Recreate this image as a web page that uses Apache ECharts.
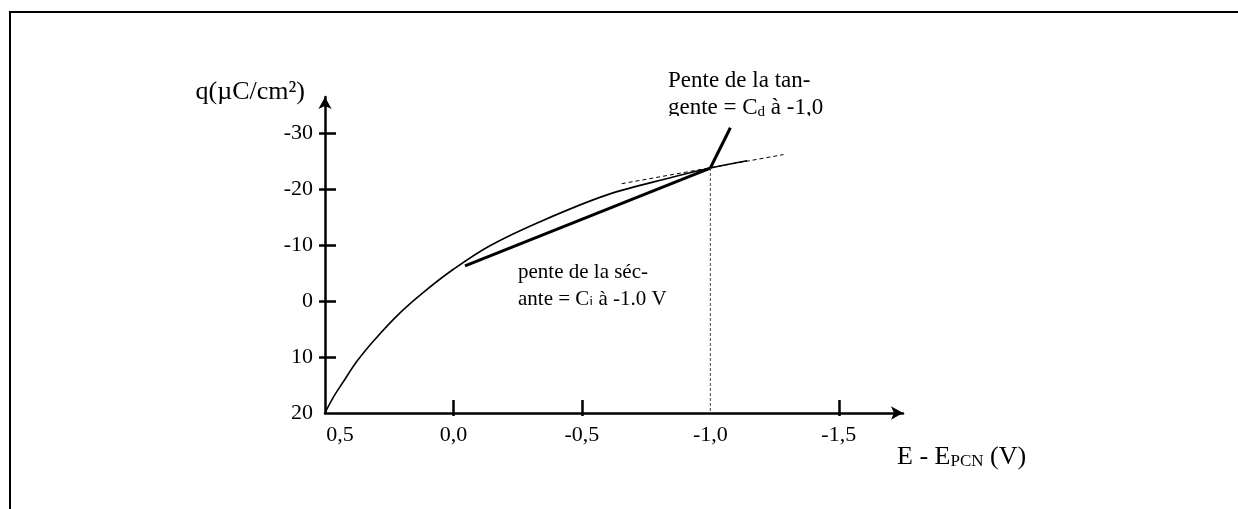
<!DOCTYPE html>
<html>
<head>
<meta charset="utf-8">
<script src="https://cdn.jsdelivr.net/npm/echarts@6/dist/echarts.min.js"></script>
<style>
  html, body { margin: 0; padding: 0; background: #fff; }
  #chart { width: 1238px; height: 509px; }
</style>
</head>
<body>
<div id="chart"></div>
<script>
// Charge density q (µC/cm²) against electrode potential E - E_PCN (V)
const curveE = [0.5, 0.469, 0.43, 0.375, 0.305, 0.208, 0.111, 0.0, -0.142, -0.337, -0.598, -0.855, -1.0, -1.143];
const curveQ = [20, 17.3, 14.5, 10.7, 6.8, 2.1, -1.8, -5.7, -9.9, -14.2, -19.0, -22.2, -23.8, -25.1];

// secant from the curve to the point at -1,0 V
const secantE = [-0.045, -1.0];
const secantQ = [-6.3, -23.8];

// tangent to the curve at -1,0 V
const tangentE = [-0.655, -1.285];
const tangentQ = [-21.0, -26.2];

// vertical guide dropped from the point at -1,0 V
const guideE = [-1.0, -1.0];
const guideQ = [-23.8, 20];

// pointer from the tangent point up to its label
const pointerE = [-1.0, -1.078];
const pointerQ = [-23.8, -31.0];

const xLabelValues = [0.5, 0.0, -0.5, -1.0, -1.5];
const xTickValues = [0.0, -0.5, -1.5];
const yLabelValues = [-30, -20, -10, 0, 10, 20];
const yTickValues = [-30, -20, -10, 0, 10];

const FONT = "'Liberation Serif', 'Times New Roman', serif";
const pairs = (xs, ys) => xs.map((x, i) => [x, ys[i]]);

const chart = echarts.init(document.getElementById('chart'));

const gridBox = { left: 325, top: 97, right: 335, bottom: 96 };
const xRange = { min: -1.75, max: 0.5 };
const yRange = { min: -36.5, max: 20 };

function lineSeries(xs, ys, width, type, color) {
  return {
    type: 'line',
    data: pairs(xs, ys),
    symbol: 'none',
    silent: true,
    animation: false,
    lineStyle: { color: color || '#000', width: width, type: type || 'solid' },
    z: 3
  };
}

const curve = lineSeries(curveE, curveQ, 1.6);
curve.smooth = 0.35;

chart.setOption({
  backgroundColor: '#fff',
  animation: false,
  grid: [
    Object.assign({}, gridBox),
    Object.assign({}, gridBox)
  ],
  xAxis: [
    {
      type: 'value', gridIndex: 0, inverse: true,
      min: xRange.min, max: xRange.max,
      splitLine: { show: false },
      axisLine: {
        onZero: false,
        lineStyle: { color: '#000', width: 2.5 },
        symbol: ['none', 'arrow'], symbolSize: [10, 12]
      },
      axisTick: {
        inside: true, length: 13, customValues: xTickValues,
        lineStyle: { color: '#000', width: 2.5 }
      },
      axisLabel: {
        customValues: xLabelValues,
        margin: 11,
        color: '#000', fontFamily: FONT, fontSize: 22,
        formatter: v => {
          const s = v.toFixed(1).replace('.', ',');
          return v === xRange.max ? '{first|' + s + '}' : s;
        },
        rich: { first: { fontFamily: FONT, fontSize: 22, color: '#000', padding: [0, 0, 0, 30] } }
      }
    },
    {
      type: 'value', gridIndex: 1, inverse: true,
      min: xRange.min, max: xRange.max,
      splitLine: { show: false },
      axisLine: { show: false, onZero: false },
      axisTick: {
        inside: false, length: 3, customValues: xTickValues,
        lineStyle: { color: '#000', width: 2.5 }
      },
      axisLabel: { show: false }
    }
  ],
  yAxis: [
    {
      type: 'value', gridIndex: 0, inverse: true,
      min: yRange.min, max: yRange.max,
      splitLine: { show: false },
      axisLine: {
        onZero: false,
        lineStyle: { color: '#000', width: 2.5 },
        symbol: ['none', 'arrow'], symbolSize: [10, 12]
      },
      axisTick: {
        inside: true, length: 11, customValues: yTickValues,
        lineStyle: { color: '#000', width: 2.5 }
      },
      axisLabel: {
        customValues: yLabelValues,
        margin: 12,
        padding: [9, 0, 0, 0],
        color: '#000', fontFamily: FONT, fontSize: 22,
        formatter: v => String(v)
      }
    },
    {
      type: 'value', gridIndex: 1, inverse: true,
      min: yRange.min, max: yRange.max,
      splitLine: { show: false },
      axisLine: { show: false, onZero: false },
      axisTick: {
        inside: false, length: 6, customValues: yTickValues,
        lineStyle: { color: '#000', width: 2.5 }
      },
      axisLabel: { show: false }
    }
  ],
  series: [
    curve,
    lineSeries(secantE, secantQ, 3),
    lineSeries(tangentE, tangentQ, 1, [4, 3]),
    lineSeries(guideE, guideQ, 1, [3, 2], '#444'),
    lineSeries(pointerE, pointerQ, 3)
  ],
  graphic: [
    // page frame along the top and left edges
    {
      type: 'polyline', silent: true,
      shape: { points: [[10, 509], [10, 12], [1238, 12]] },
      style: { stroke: '#000', lineWidth: 2, fill: null }
    },
    // axis titles
    {
      type: 'text', silent: true, x: 305, y: 92,
      style: { text: 'q(µC/cm²)', font: '26px ' + FONT, fill: '#000', align: 'right', verticalAlign: 'middle' }
    },
    {
      type: 'text', silent: true, x: 897, y: 457,
      style: {
        text: 'E - E{sub|PCN} (V)',
        font: '26px ' + FONT, fill: '#000', verticalAlign: 'middle',
        rich: { sub: { fontFamily: FONT, fontSize: 17, fill: '#000', verticalAlign: 'bottom', lineHeight: 16 } }
      }
    },
    // tangent label
    {
      type: 'text', silent: true, x: 668, y: 81,
      style: { text: 'Pente de la tan-', font: '23px ' + FONT, fill: '#000', verticalAlign: 'middle' }
    },
    {
      type: 'text', silent: true, x: 668, y: 108,
      style: {
        text: 'gente = C{sub|d} à -1,0',
        font: '23px ' + FONT, fill: '#000', verticalAlign: 'middle',
        rich: { sub: { fontFamily: FONT, fontSize: 15, fill: '#000', verticalAlign: 'bottom', lineHeight: 12 } }
      }
    },
    { type: 'rect', silent: true, z: 100, shape: { x: 660, y: 116, width: 200, height: 9 }, style: { fill: '#fff' } },
    // secant label
    {
      type: 'text', silent: true, x: 518, y: 272,
      style: { text: 'pente de la séc-', font: '21px ' + FONT, fill: '#000', verticalAlign: 'middle' }
    },
    {
      type: 'text', silent: true, x: 518, y: 299,
      style: {
        text: 'ante = C{sub|i} à -1.0 V',
        font: '21px ' + FONT, fill: '#000', verticalAlign: 'middle',
        rich: { sub: { fontFamily: FONT, fontSize: 14, fill: '#000', verticalAlign: 'bottom', lineHeight: 12 } }
      }
    },
    { type: 'rect', silent: true, z: 100, shape: { x: 510, y: 305, width: 190, height: 12 }, style: { fill: '#fff' } }
  ]
});
</script>
</body>
</html>
